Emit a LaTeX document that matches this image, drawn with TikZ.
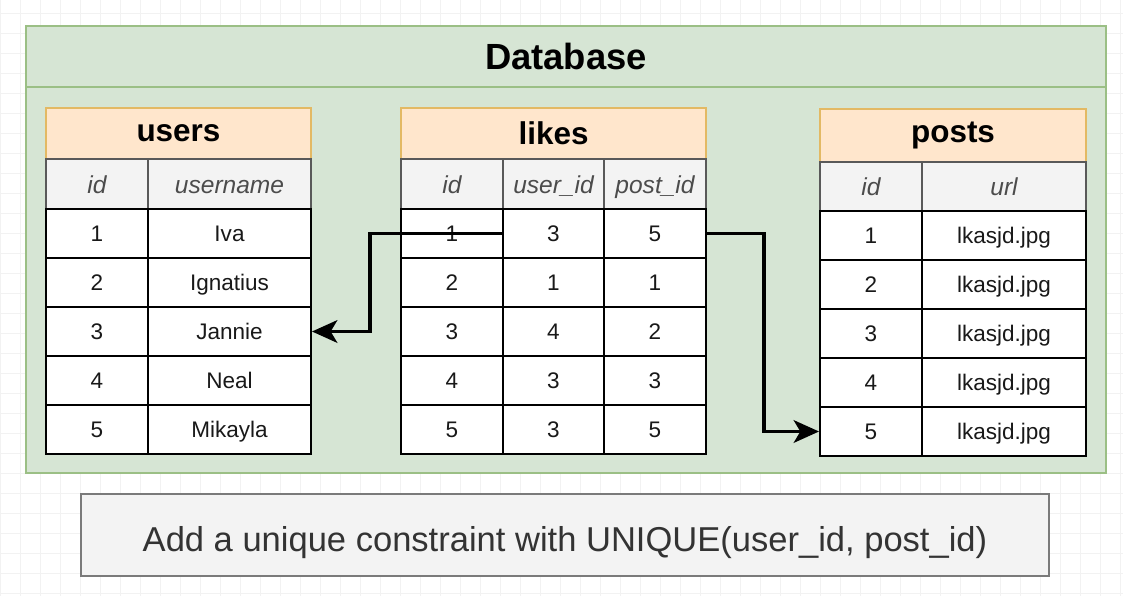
\documentclass[tikz,border=0pt]{standalone}
\usepackage{fontspec}
\setmainfont{Liberation Sans}
\usetikzlibrary{arrows.meta}

\definecolor{dbfill}{HTML}{D6E5D4}
\definecolor{dbline}{HTML}{9BBF85}
\definecolor{titlefill}{HTML}{FFE6CC}
\definecolor{titleline}{HTML}{E3B964}
\definecolor{headfill}{HTML}{F3F3F3}
\definecolor{noteline}{HTML}{7A7A7A}
\definecolor{gridgray}{HTML}{F2F2F2}

\newcommand{\cellfont}{\fontsize{16.9}{19}\selectfont}
\newcommand{\headfont}{\fontsize{18.4}{21}\selectfont\itshape}
\newcommand{\titlefont}{\fontsize{23.6}{27}\selectfont\bfseries}
\newcommand{\dbfont}{\fontsize{27.3}{31}\selectfont\bfseries}
\newcommand{\notefont}{\fontsize{25.9}{30}\selectfont}

\tikzset{
  gridline/.style={gridgray, line width=0.6pt},
  dbbox/.style={draw=dbline, fill=dbfill, line width=1.5pt, anchor=north west, inner sep=0pt},
  tabtitle/.style={draw=titleline, fill=titlefill, line width=1.5pt, anchor=north west, inner sep=0pt, font=\titlefont},
  cell/.style={draw=black, fill=white, line width=1.5pt, anchor=north west, inner sep=0pt, minimum height=36.75pt, font=\cellfont, text=black!90, text height=12.5pt, text depth=0pt},
  colhead/.style={cell, draw=black!65, fill=headfill, minimum height=37.5pt, font=\headfont, text=black!70, text height=14pt, text depth=0pt},
  note/.style={draw=noteline, fill=headfill, line width=1.5pt, anchor=north west, inner sep=0pt, font=\notefont, text=black!80, text height=24pt, text depth=0pt},
  conn/.style={line width=2.3pt, -{Stealth[length=19pt,width=17pt,inset=5pt]}},
}

\begin{document}
\begin{tikzpicture}[x=0.75pt, y=-0.75pt]
\useasboundingbox (0,0) rectangle (1123,596);
\fill[white] (0,0) rectangle (1123,596);

% canvas grid
\foreach \gx in {0,20,...,1120}
  \draw[gridline] (\gx,0) -- (\gx,596);
\foreach \gy in {13,33,...,593}
  \draw[gridline] (0,\gy) -- (1123,\gy);

% database frame
\node[dbbox, minimum width=810pt, minimum height=335.25pt] (db) at (25,25) {};
\node[dbbox, minimum width=810pt, minimum height=45.75pt, font=\dbfont] (dbtitle) at (25,25) {Database};

% users
\node[tabtitle, minimum width=198.75pt, minimum height=38.25pt] (users) at (45,107) {users};
\node[colhead, minimum width=76.5pt] (u-id) at (45,158) {id};
\node[colhead, minimum width=122.25pt] (u-name) at (147,158) {username};
\foreach \n [count=\i] in {Iva,Ignatius,Jannie,Neal,Mikayla} {
  \node[cell, minimum width=76.5pt] (u-\i-1) at (45,{208+49*(\i-1)}) {\i};
  \node[cell, minimum width=122.25pt] (u-\i-2) at (147,{208+49*(\i-1)}) {\n};
}

% likes
\node[tabtitle, minimum width=228.75pt, minimum height=38.25pt] (likes) at (400,107) {likes};
\node[colhead, minimum width=76.5pt] (l-id) at (400,158) {id};
\node[colhead, minimum width=75.75pt] (l-user) at (502,158) {user\_id};
\node[colhead, minimum width=76.5pt] (l-post) at (603,158) {post\_id};
\foreach \u/\p [count=\i] in {3/5,1/1,4/2,3/3,3/5} {
  \node[cell, minimum width=76.5pt] (l-\i-1) at (400,{208+49*(\i-1)}) {\i};
  \node[cell, minimum width=75.75pt] (l-\i-2) at (502,{208+49*(\i-1)}) {\u};
  \node[cell, minimum width=76.5pt] (l-\i-3) at (603,{208+49*(\i-1)}) {\p};
}

% posts
\node[tabtitle, minimum width=199.5pt, minimum height=39.75pt] (posts) at (819,108) {posts};
\node[colhead, minimum width=76.5pt, minimum height=36.75pt] (p-id) at (819,161) {id};
\node[colhead, minimum width=123pt, minimum height=36.75pt] (p-url) at (921,161) {url};
\foreach \i in {1,...,5} {
  \node[cell, minimum width=76.5pt] (p-\i-1) at (819,{210+49*(\i-1)}) {\i};
  \node[cell, minimum width=123pt] (p-\i-2) at (921,{210+49*(\i-1)}) {lkasjd.jpg};
}

% foreign keys
\draw[conn] (l-1-2.west) -- ++(-132,0) |- (u-3-2.east);
\draw[conn] (l-1-3.east) -- ++(57,0) |- (p-5-1.west);

% note
\node[note, minimum width=726pt, minimum height=61.5pt] (constraint) at (80,493) {Add a unique constraint with UNIQUE(user\_id, post\_id)};
\end{tikzpicture}
\end{document}
